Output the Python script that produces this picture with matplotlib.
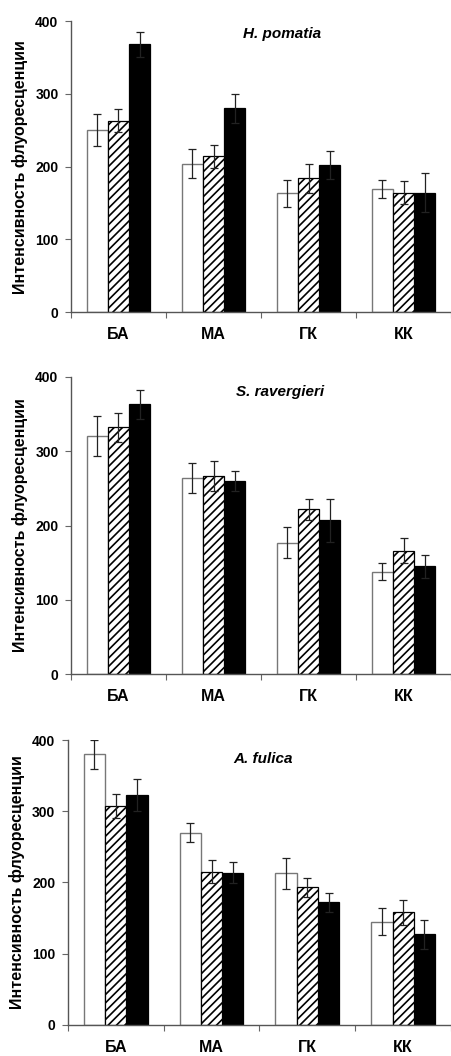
import numpy as np
import matplotlib
matplotlib.use('Agg')
import matplotlib.pyplot as plt

plt.rcParams['font.family'] = ['Liberation Sans', 'DejaVu Sans']
plt.rcParams['hatch.linewidth'] = 1.2

categories = ['БА', 'МА', 'ГК', 'КК']
ylabel = 'Интенсивность флуоресценции'

# H. pomatia
hp_white = [250, 204, 163, 169]
hp_white_err = [22, 20, 18, 12]
hp_hatch = [263, 214, 184, 164]
hp_hatch_err = [16, 16, 20, 16]
hp_black = [368, 280, 202, 164]
hp_black_err = [17, 20, 19, 27]

# S. ravergieri
sr_white = [321, 264, 177, 138]
sr_white_err = [27, 20, 21, 12]
sr_hatch = [332, 267, 222, 166]
sr_hatch_err = [19, 20, 14, 17]
sr_black = [363, 260, 207, 145]
sr_black_err = [19, 14, 29, 15]

# A. fulica
af_white = [380, 270, 213, 145]
af_white_err = [20, 13, 22, 19]
af_hatch = [307, 215, 193, 158]
af_hatch_err = [17, 16, 14, 17]
af_black = [323, 214, 172, 127]
af_black_err = [23, 15, 13, 20]

panels = [
    ('H. pomatia', [0.157, 0.7045, 0.841, 0.2755], (0.556, 0.955),
     (hp_white, hp_white_err), (hp_hatch, hp_hatch_err), (hp_black, hp_black_err)),
    ('S. ravergieri', [0.157, 0.3617, 0.841, 0.2813], (0.55, 0.95),
     (sr_white, sr_white_err), (sr_hatch, sr_hatch_err), (sr_black, sr_black_err)),
    ('A. fulica', [0.150, 0.0294, 0.848, 0.2698], (0.51, 0.935),
     (af_white, af_white_err), (af_hatch, af_hatch_err), (af_black, af_black_err)),
]

fig = plt.figure(figsize=(4.52, 10.56), dpi=100)

x = np.arange(len(categories))
w = 0.222
for title, rect, tpos, white, hatch, black in panels:
    ax = fig.add_axes(rect)
    ekw = dict(ecolor='#222222', elinewidth=0.9, capsize=3, capthick=0.9)
    ax.bar(x - w, white[0], w, yerr=white[1], color='white',
           edgecolor='#777777', linewidth=1.0, error_kw=ekw, zorder=2)
    ax.bar(x, hatch[0], w, yerr=hatch[1], color='white', hatch='////',
           edgecolor='black', linewidth=0.9, error_kw=ekw, zorder=2)
    ax.bar(x + w, black[0], w, yerr=black[1], color='black',
           edgecolor='black', linewidth=0.9, error_kw=ekw, zorder=1)

    ax.set_xlim(-0.5, len(categories) - 0.5)
    ax.set_ylim(0, 400)
    ax.set_yticks([0, 100, 200, 300, 400])
    ax.set_yticklabels(['0', '100', '200', '300', '400'],
                       fontweight='bold', fontsize=10)
    ax.set_xticks(np.arange(len(categories) + 1) - 0.5, minor=False)
    ax.set_xticklabels([])
    ax.set_xticks(x, minor=True)
    ax.set_xticklabels(categories, minor=True, fontweight='bold', fontsize=11.5)
    ax.tick_params(axis='x', which='minor', length=0, pad=11)
    ax.tick_params(axis='x', which='major', length=4, direction='out',
                   color='#666666')
    ax.tick_params(axis='y', length=4, direction='out', color='#666666', pad=5)
    for s in ['top', 'right']:
        ax.spines[s].set_visible(False)
    for s in ['left', 'bottom']:
        ax.spines[s].set_color('#555555')
        ax.spines[s].set_linewidth(1.0)
    ax.set_ylabel(ylabel, fontweight='bold', fontsize=11.5, labelpad=5)
    ax.text(tpos[0], tpos[1], title, transform=ax.transAxes, ha='center',
            va='center', fontsize=11, fontweight='bold', fontstyle='italic')

fig.savefig('out.png', dpi=100)
